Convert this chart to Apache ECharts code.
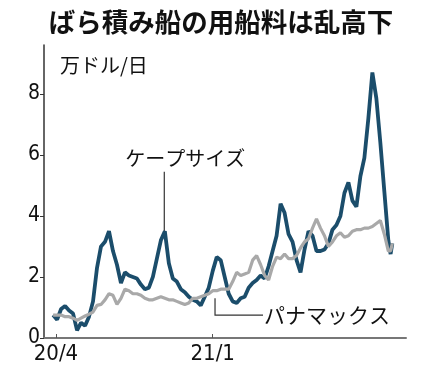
<!DOCTYPE html>
<html><head><meta charset="utf-8">
<script src="https://cdn.jsdelivr.net/npm/echarts@6/dist/echarts.min.js"></script>
<style>html,body{margin:0;padding:0;background:#fff}#c{width:442px;height:378px}</style>
</head><body><div id="c"></div>
<script>
const titleText = 'ばら積み船の用船料は乱高下';
const unitText = '万ドル/日';
const capeName = 'ケープサイズ';
const panamaxName = 'パナマックス';
const dates = ['2020-03-27','2020-04-03','2020-04-10','2020-04-17','2020-04-24','2020-05-01','2020-05-08','2020-05-15','2020-05-22','2020-05-29',
'2020-06-05','2020-06-12','2020-06-19','2020-06-26','2020-07-03','2020-07-10','2020-07-17','2020-07-24','2020-07-31','2020-08-07',
'2020-08-14','2020-08-21','2020-08-28','2020-09-04','2020-09-11','2020-09-18','2020-09-25','2020-10-02','2020-10-09','2020-10-16',
'2020-10-23','2020-10-30','2020-11-06','2020-11-13','2020-11-20','2020-11-27','2020-12-04','2020-12-11','2020-12-18','2020-12-25',
'2021-01-01','2021-01-08','2021-01-15','2021-01-22','2021-01-29','2021-02-05','2021-02-12','2021-02-19','2021-02-26','2021-03-05',
'2021-03-12','2021-03-19','2021-03-26','2021-04-02','2021-04-09','2021-04-16','2021-04-23','2021-04-30','2021-05-07','2021-05-14',
'2021-05-21','2021-05-28','2021-06-04','2021-06-11','2021-06-18','2021-06-25','2021-07-02','2021-07-09','2021-07-16','2021-07-23',
'2021-07-30','2021-08-06','2021-08-13','2021-08-20','2021-08-27','2021-09-03','2021-09-10','2021-09-17','2021-09-24','2021-10-01',
'2021-10-08','2021-10-15','2021-10-22','2021-10-29','2021-11-05','2021-11-09','2021-11-12'];
const capeValues = [0.75,0.6,0.95,1.05,0.9,0.8,0.25,0.5,0.4,0.7,
1.2,2.3,3.0,3.15,3.5,2.85,2.4,1.8,2.15,2.05,
2.0,1.95,1.75,1.6,1.65,2.0,2.6,3.2,3.5,2.45,
1.95,1.85,1.6,1.5,1.35,1.25,1.2,1.07,1.35,1.65,
2.2,2.65,2.55,2.0,1.45,1.2,1.15,1.3,1.35,1.65,
1.8,1.9,2.05,1.95,2.35,2.85,3.35,4.4,4.1,3.4,
3.15,2.55,2.15,2.9,3.5,3.35,2.85,2.85,2.9,3.1,
3.55,3.7,4.0,4.75,5.1,4.5,4.3,5.3,5.9,7.2,
8.7,7.85,6.4,4.8,3.2,2.75,3.1];
const panamaxValues = [0.75,0.75,0.75,0.7,0.7,0.65,0.58,0.65,0.72,0.78,
0.85,1.07,1.1,1.25,1.45,1.4,1.1,1.3,1.6,1.55,
1.45,1.45,1.4,1.3,1.25,1.25,1.3,1.35,1.3,1.25,
1.25,1.2,1.15,1.1,1.15,1.3,1.3,1.35,1.4,1.45,
1.55,1.55,1.6,1.6,1.6,1.85,2.15,2.05,2.1,2.15,
2.55,2.7,2.4,2.05,1.9,2.35,2.65,2.6,2.75,2.6,
2.6,2.7,2.95,3.15,3.25,3.6,3.9,3.6,3.35,3.0,
3.15,3.35,3.45,3.3,3.35,3.5,3.55,3.55,3.6,3.6,
3.65,3.75,3.85,3.4,2.85,2.85,3.1];
const xTickDates = ['2020-04-01','2021-01-01'];
const xTickLabels = ['20/4','21/1'];
const yTicks = [0,2,4,6,8];
const xRange = ['2020-03-11','2021-12-06'];
const yMax = 9.6;
const capeAnchor = {date:'2020-10-08', value:3.5, labelValue:5.45, textValue:5.9};
const panamaxAnchor = {date:'2021-01-05', value:1.3, elbowValue:0.75};

const ts = s => { const [y,m,d] = s.split('-').map(Number); return Date.UTC(y,m-1,d); };
const capeData = dates.map((d,i)=>[ts(d), capeValues[i]]);
const panamaxData = dates.map((d,i)=>[ts(d), panamaxValues[i]]);
const tickTs = xTickDates.map(ts);
const numFont = '"Liberation Sans Narrow","DejaVu Sans Condensed","Arial Narrow",sans-serif';
const jpFont = '"Noto Sans CJK JP",sans-serif';

const chart = echarts.init(document.getElementById('c'), null, {renderer:'canvas'});
chart.setOption({
  animation:false,
  backgroundColor:'#fff',
  title:{text:titleText, left:'center', top:4, textStyle:{fontFamily:jpFont, fontSize:26.5, fontWeight:'bold', color:'#111'}},
  grid:{left:44, right:36, top:45, bottom:40},
  xAxis:{type:'value', min:ts(xRange[0]), max:ts(xRange[1]),
    axisLine:{show:true, lineStyle:{color:'#777', width:2}},
    axisTick:{show:true, inside:true, length:4, customValues:tickTs, lineStyle:{color:'#555', width:1}},
    axisLabel:{customValues:tickTs, formatter:v=>xTickLabels[tickTs.indexOf(v)] || '', fontFamily:numFont, fontSize:22, color:'#111', margin:5},
    splitLine:{show:false}},
  yAxis:{type:'value', min:0, max:yMax,
    axisLine:{show:true, lineStyle:{color:'#333', width:1.5}},
    axisTick:{show:true, length:4, customValues:yTicks, lineStyle:{color:'#333'}},
    axisLabel:{customValues:yTicks, fontFamily:numFont, fontSize:21, color:'#111', margin:4},
    splitLine:{show:false}},
  series:[
    {name:capeName, type:'line', data:capeData, showSymbol:false, lineStyle:{color:'#1b4d6b', width:3.8}, z:2},
    {name:panamaxName, type:'line', data:panamaxData, showSymbol:false, lineStyle:{color:'#a9a9a9', width:3.2}, z:3}
  ]
});

const p = (d,v)=>chart.convertToPixel({gridIndex:0},[ts(d),v]);
const cTop = p(capeAnchor.date, capeAnchor.labelValue), cBot = p(capeAnchor.date, capeAnchor.value), cTxt = p(capeAnchor.date, capeAnchor.textValue);
const nTop = p(panamaxAnchor.date, panamaxAnchor.value), nElb = p(panamaxAnchor.date, panamaxAnchor.elbowValue);
const gp = chart.convertToPixel({gridIndex:0},[ts(xRange[0]),0]);
chart.setOption({graphic:[
  {type:'text', style:{text:unitText, x:gp[0]+16, y:65, verticalAlign:'middle', font:'20px '+jpFont, fill:'#111'}},
  {type:'line', shape:{x1:cTop[0], y1:cTop[1], x2:cBot[0], y2:cBot[1]}, style:{stroke:'#333', lineWidth:1.2}, z:1},
  {type:'text', style:{text:capeName, x:cTxt[0]+21, y:cTxt[1], align:'center', verticalAlign:'middle', font:'20px '+jpFont, fill:'#111'}},
  {type:'polyline', shape:{points:[[nTop[0],nTop[1]],[nElb[0],nElb[1]],[nElb[0]+48,nElb[1]]]}, style:{stroke:'#333', lineWidth:1.2, fill:null}, z:1},
  {type:'text', style:{text:panamaxName, x:nElb[0]+49, y:nElb[1], align:'left', verticalAlign:'middle', font:'21px '+jpFont, fill:'#111'}}
]});
</script></body></html>
